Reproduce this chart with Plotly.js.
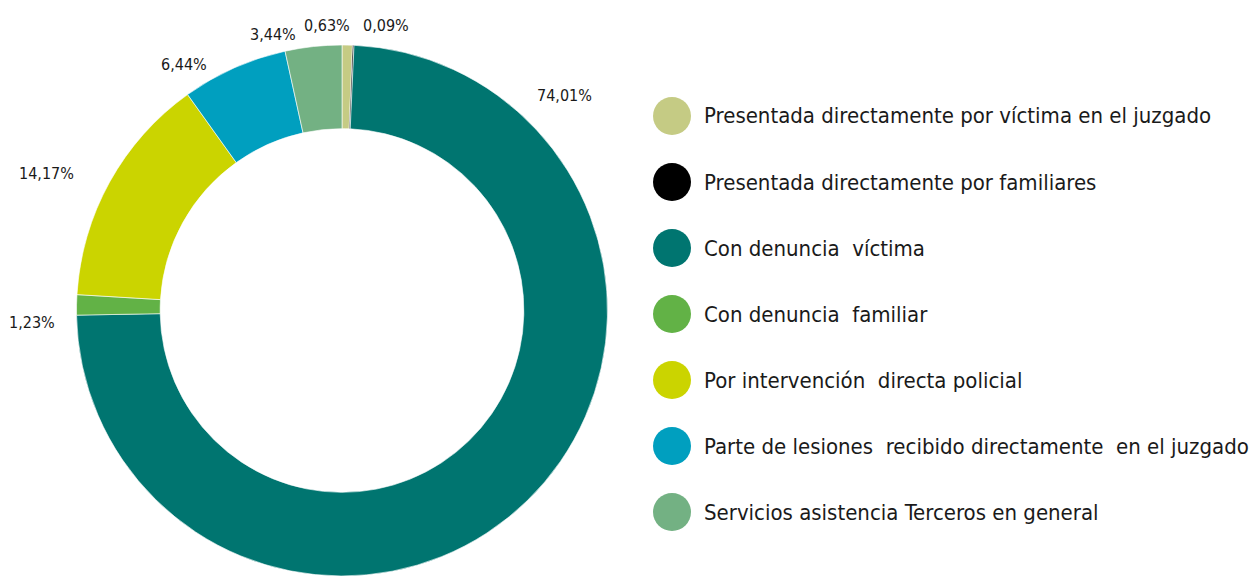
<!DOCTYPE html>
<html><head><meta charset="utf-8">
<script src="https://cdn.plot.ly/plotly-3.0.1.min.js"></script>
<style>html,body{margin:0;padding:0;background:#fff}#chart{width:1257px;height:576px}</style>
</head><body><div id="chart"></div>
<script>
var categories = [
  "Presentada directamente por víctima en el juzgado",
  "Presentada directamente por familiares",
  "Con denuncia  víctima",
  "Con denuncia  familiar",
  "Por intervención  directa policial",
  "Parte de lesiones  recibido directamente  en el juzgado",
  "Servicios asistencia Terceros en general"
];
var values = [0.63, 0.09, 74.01, 1.23, 14.17, 6.44, 3.44];
var valueLabels = ["0,63%", "0,09%", "74,01%", "1,23%", "14,17%", "6,44%", "3,44%"];
var colors = ["#c5cb84", "#000000", "#007570", "#62b246", "#cbd400", "#009fbf", "#73b183"];

// label positions (pixels from top-left) for each percentage
var labelPos = [[327,25],[386,25],[564,95],[32,322],[46,173],[184,64],[273,35]];
var W = 1257, H = 576;
var FONT = '"DejaVu Sans Condensed", "Liberation Sans Narrow", Arial, sans-serif';

var trace = {
  type: 'pie',
  values: values,
  labels: categories,
  marker: {colors: colors, line: {color: '#ffffff', width: 0.6}},
  hole: 0.685,
  sort: false,
  direction: 'clockwise',
  rotation: 0,
  textinfo: 'none',
  hoverinfo: 'label+percent',
  showlegend: false,
  domain: {x: [75/W, 609/W], y: [0, 531/H]}
};

var annotations = [];
var shapes = [];
for (var i = 0; i < values.length; i++) {
  annotations.push({
    xref: 'paper', yref: 'paper',
    x: labelPos[i][0] / W, y: 1 - labelPos[i][1] / H,
    xanchor: 'center', yanchor: 'middle',
    text: valueLabels[i], showarrow: false,
    font: {family: FONT, size: 16, color: '#1a1a1a'}
  });
  var cy = 1 - (116 + 66 * i) / H;
  shapes.push({
    type: 'circle', xref: 'paper', yref: 'paper',
    xsizemode: 'pixel', ysizemode: 'pixel',
    xanchor: 672 / W, yanchor: cy,
    x0: -19, x1: 19, y0: -19, y1: 19,
    fillcolor: colors[i], line: {width: 0}
  });
  annotations.push({
    xref: 'paper', yref: 'paper',
    x: 702 / W, y: cy,
    xanchor: 'left', yanchor: 'middle',
    text: categories[i], showarrow: false,
    font: {family: FONT, size: 22, color: '#1a1a1a'}
  });
}

var layout = {
  width: W, height: H,
  margin: {l: 0, r: 0, t: 0, b: 0},
  paper_bgcolor: '#ffffff',
  plot_bgcolor: '#ffffff',
  showlegend: false,
  annotations: annotations,
  shapes: shapes
};
Plotly.newPlot('chart', [trace], layout, {displayModeBar: false, staticPlot: true});
</script></body></html>
